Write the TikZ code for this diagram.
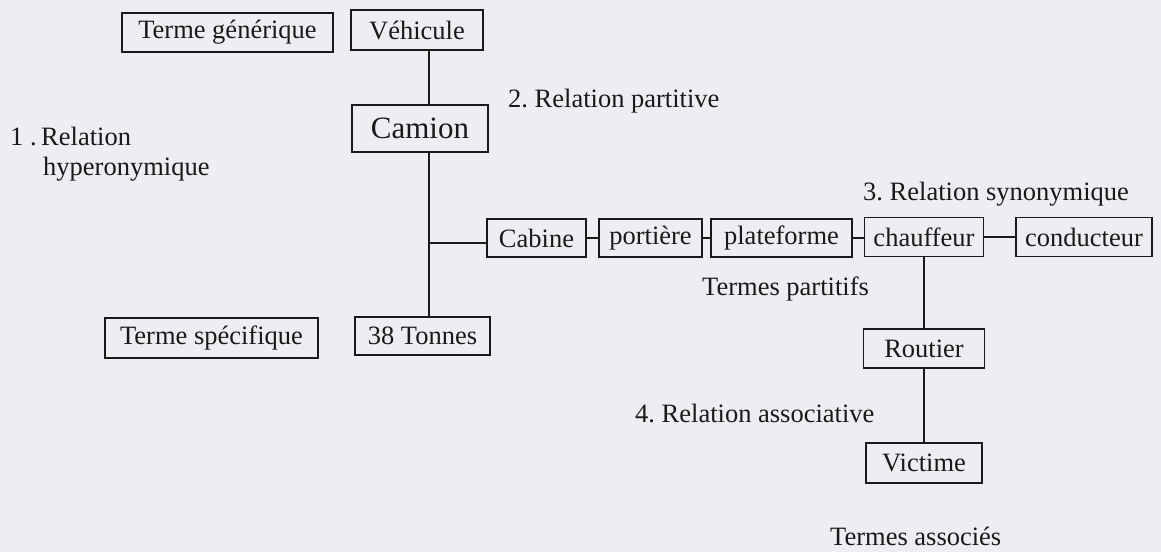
\documentclass[tikz,border=0pt]{standalone}
\usepackage{fontspec}
\setmainfont{Liberation Serif}
\frenchspacing

\definecolor{paper}{RGB}{238,238,242}
\definecolor{ink}{RGB}{25,25,25}

\begin{document}
\begin{tikzpicture}[x=1pt, y=-1pt,
    termbox/.style={draw=ink, line width=1.8pt, text=ink, inner sep=0pt,
        font=\fontsize{26.5}{30}\selectfont},
    relation/.style={text=ink, inner sep=0pt, anchor=base west,
        font=\fontsize{26.5}{30}\selectfont},
    link/.style={draw=ink, line width=1.8pt}]

    \fill[paper] (0,0) rectangle (1161,552);
    \useasboundingbox (0,0) rectangle (1161,552);

    % left column
    \node[termbox, minimum width=211pt, minimum height=39pt] (generique) at (227.5,32.5) {Terme générique};
    \node[termbox, minimum width=213pt, minimum height=40pt] (specifique) at (211.5,338) {Terme spécifique};

    % hyperonymic trunk
    \node[termbox, minimum width=132pt, minimum height=40pt] (vehicule) at (417,30) {Véhicule};
    \node[termbox, minimum width=136pt, minimum height=47pt,
        font=\fontsize{31}{36}\selectfont] (camion) at (420,128.5) {Camion};
    \node[termbox, minimum width=135pt, minimum height=38pt] (tonnes) at (422.5,336) {38 Tonnes};

    % partitive row
    \node[termbox, minimum width=99pt, minimum height=38pt] (cabine) at (536.5,238) {Cabine};
    \node[termbox, minimum width=103pt, minimum height=38pt] (portiere) at (650.5,238) {portière};
    \node[termbox, minimum width=141pt, minimum height=38pt] (plateforme) at (781.5,238) {plateforme};
    \node[termbox, minimum width=119pt, minimum height=39pt] (chauffeur) at (924,237) {chauffeur};
    \node[termbox, minimum width=136pt, minimum height=39pt] (conducteur) at (1084,237) {conducteur};

    % associative column
    \node[termbox, minimum width=121pt, minimum height=39pt] (routier) at (924,348.5) {Routier};
    \node[termbox, minimum width=116pt, minimum height=40pt] (victime) at (924,463) {Victime};

    % labels
    \node[relation] (rel1num) at (10,145) {1 .};
    \node[relation] (rel1) at (41,145) {Relation};
    \node[relation] (rel1b) at (43,175) {hyperonymique};
    \node[relation] (rel2) at (508,107) {2. Relation partitive};
    \node[relation] (rel3) at (863,200) {3. Relation synonymique};
    \node[relation] (partitifs) at (702,295) {Termes partitifs};
    \node[relation] (rel4) at (635,422) {4. Relation associative};
    \node[relation] (associes) at (830,545) {Termes associés};

    \coordinate (trunk) at (429,0);
    \coordinate (branch) at (0,243);

    \draw[link] (vehicule.south -| trunk) -- (camion.north -| trunk);
    \draw[link] (camion.south -| trunk) -- (tonnes.north -| trunk);
    \draw[link] (branch -| trunk) -- (branch -| cabine.west);

    \draw[link] (cabine.east) -- (portiere.west);
    \draw[link] (portiere.east) -- (plateforme.west);
    \draw[link] (plateforme.east) -- (plateforme.east -| chauffeur.west);
    \draw[link] (chauffeur.east) -- (conducteur.west);

    \draw[link] (chauffeur.south) -- (routier.north);
    \draw[link] (routier.south) -- (victime.north);

\end{tikzpicture}
\end{document}
